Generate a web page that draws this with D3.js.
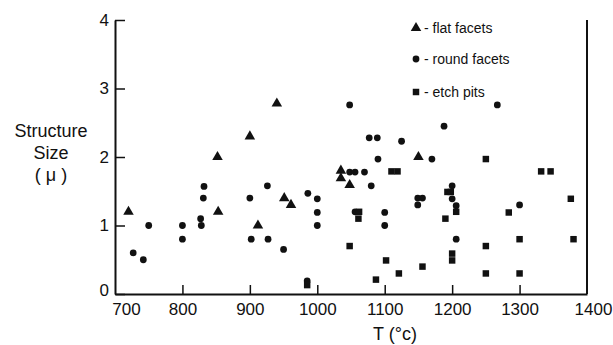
<!DOCTYPE html>
<html>
<head>
<meta charset="utf-8">
<script src="https://cdn.jsdelivr.net/npm/d3@7"></script>
<style>
  body { margin: 0; background: #fff; }
  svg text { font-family: "Liberation Sans", Arial, sans-serif; fill: #111; }
</style>
</head>
<body>
<div id="chart"></div>
<script>
// [T (°C), structure size (µ)]
var flatFacets = [
    [720, 1.2], [852, 2.0], [853, 1.2], [900, 2.3], [912, 1.0], [940, 2.78],
    [951, 1.4], [961, 1.3], [1035, 1.8], [1035, 1.69], [1048, 1.59], [1150, 2.0]
];
var roundFacets = [
    [727, 0.6], [742, 0.5], [750, 1.0], [800, 1.0], [800, 0.8], [827, 1.1],
    [828, 1.0], [831, 1.4], [832, 1.57], [900, 1.4], [902, 0.8], [926, 1.58],
    [927, 0.8], [950, 0.65], [985, 0.19], [986, 1.47], [1000, 1.39], [1000, 1.19],
    [1000, 1.0], [1048, 2.76], [1048, 1.78], [1056, 1.78], [1070, 1.78], [1077, 2.28],
    [1089, 2.28], [1090, 1.97], [1080, 1.58], [1056, 1.2], [1100, 1.19], [1100, 1.0],
    [1125, 2.23], [1149, 1.4], [1156, 1.4], [1149, 1.3], [1170, 1.97], [1188, 2.45],
    [1267, 2.76], [1200, 1.58], [1200, 1.39], [1206, 1.29], [1206, 0.8], [1300, 1.3]
];
var etchPits = [
    [985, 0.13], [1048, 0.7], [1062, 1.2], [1061, 1.1], [1087, 0.21], [1102, 0.49],
    [1110, 1.79], [1119, 1.79], [1121, 0.3], [1156, 0.4], [1190, 1.1], [1193, 1.49],
    [1198, 1.49], [1200, 0.59], [1200, 0.49], [1206, 1.2], [1250, 1.97], [1250, 0.7],
    [1250, 0.3], [1284, 1.19], [1300, 0.8], [1300, 0.3], [1332, 1.79], [1346, 1.79],
    [1376, 1.39], [1380, 0.8]
];
var xTicks = [700, 800, 900, 1000, 1100, 1200, 1300, 1400];
var yTicks = [0, 1, 2, 3, 4];
var legendLabels = ["- flat facets", "- round facets", "- etch pits"];

var width = 613, height = 345;
var margin = { top: 20, right: 26, bottom: 51, left: 115 };

var svg = d3.select("#chart")
    .append("svg")
    .attr("width", width)
    .attr("height", height);

var x = d3.scaleLinear().domain([700, 1400]).range([margin.left, width - margin.right]);
var y = d3.scaleLinear().domain([0, 4]).range([height - margin.bottom, margin.top]);

// bottom axis, ticks pointing up into the plot
var xAxis = svg.append("g")
    .attr("transform", "translate(0," + y(0) + ")")
    .call(d3.axisBottom(x).tickValues(xTicks).tickFormat(d3.format("d"))
        .tickSizeInner(-9).tickSizeOuter(0).tickPadding(8));
xAxis.selectAll("text").style("font-size", "17px").attr("dy", "0.75em");
xAxis.selectAll(".tick").filter(function (d) { return d === 1400; }).select("text").attr("dx", 6);
xAxis.selectAll(".tick").filter(function (d) { return d === 700; }).select("text").attr("dx", 11);

// left axis, ticks pointing right
var yAxis = svg.append("g")
    .attr("transform", "translate(" + x(700) + ",0)")
    .call(d3.axisLeft(y).tickValues(yTicks).tickFormat(d3.format("d"))
        .tickSizeInner(-10).tickSizeOuter(0).tickPadding(6));
yAxis.selectAll("text").style("font-size", "17px");
yAxis.selectAll(".tick").filter(function (d) { return d === 0; }).select("text").attr("dy", "0.1em");

svg.selectAll(".domain").attr("stroke", "#111").attr("stroke-width", 2);
svg.selectAll(".tick line").attr("stroke", "#111").attr("stroke-width", 1.5);
// no tick lines at the frame edges
xAxis.selectAll(".tick").filter(function (d) { return d === 700 || d === 1400; }).select("line").remove();

// right frame line
svg.append("line")
    .attr("x1", x(1400)).attr("x2", x(1400))
    .attr("y1", y(4)).attr("y2", y(0))
    .attr("stroke", "#111").attr("stroke-width", 2);

var shapes = [
    { data: flatFacets, symbol: d3.symbolTriangle, size: 48 },
    { data: roundFacets, symbol: d3.symbolCircle, size: 36 },
    { data: etchPits, symbol: d3.symbolSquare, size: 42 }
];

shapes.forEach(function (s) {
    svg.append("g")
        .selectAll("path")
        .data(s.data)
        .enter()
        .append("path")
        .attr("d", d3.symbol().type(s.symbol).size(s.size))
        .attr("transform", function (d) { return "translate(" + x(d[0]) + "," + y(d[1]) + ")"; })
        .attr("fill", "#111");
});

// legend
var legendY = [28, 59, 92];
var legend = svg.append("g");
shapes.forEach(function (s, i) {
    legend.append("path")
        .attr("d", d3.symbol().type(s.symbol).size(s.size))
        .attr("transform", "translate(416," + legendY[i] + ")")
        .attr("fill", "#111");
    legend.append("text")
        .attr("x", 424)
        .attr("y", legendY[i] + 5)
        .style("font-size", "14px")
        .text(legendLabels[i]);
});

// axis titles
var yTitle = svg.append("text")
    .attr("text-anchor", "middle")
    .style("font-size", "18px");
yTitle.append("tspan").attr("x", 51).attr("y", 137).text("Structure");
yTitle.append("tspan").attr("x", 51).attr("y", 159).text("Size");
yTitle.append("tspan").attr("x", 51).attr("y", 181).text("( μ )");

svg.append("text")
    .attr("x", 395)
    .attr("y", 340)
    .attr("text-anchor", "middle")
    .style("font-size", "18px")
    .text("T (°c)");
</script>
</body>
</html>
